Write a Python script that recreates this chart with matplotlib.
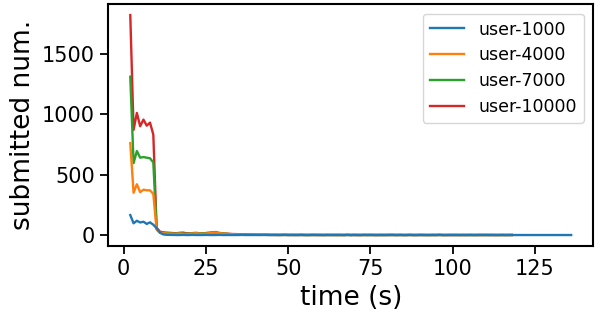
import numpy as np
import matplotlib
matplotlib.use("Agg")
import matplotlib.pyplot as plt

# submitted requests per second, sampled from t = 2 s
t_start = 2

user_1000 = [165, 97, 118, 104, 110, 92, 105, 85, 57, 20, 5, 2,
             1, 1, 0, 0, 1, 0, 0, 1, 0, 0,
             0, 1, 0, 0, 0, 1, 0, 0, 0, 0,
             0, 0, 1, 0, 0, 0, 0, 0, 1, 0,
             0, 0, 0, 0, 0, 1, 0, 0, 0, 0,
             0, 0, 0, 0, 1, 0, 0, 0, 0, 0,
             0, 1, 0, 0, 0, 0, 0, 0, 0, 0,
             1, 0, 0, 0, 0, 0, 0, 0, 1, 0,
             0, 0, 0, 0, 0, 0, 0, 0, 0, 0,
             0, 0, 1, 0, 0, 0, 0, 0, 0, 0,
             0, 0, 0, 0, 0, 1, 0, 0, 0, 0,
             0, 0, 0, 0, 0, 0, 0, 0, 0, 0,
             0, 0, 0, 0, 0, 0, 0, 0, 0, 0,
             0, 0, 0]

user_4000 = [760, 350, 420, 355, 375, 370, 370, 340,
             45, 18, 15, 12, 12, 10, 10, 12, 10, 8,
             10, 12, 14, 12, 10, 12, 15, 18, 20, 15,
             12, 10, 8, 6, 5, 4, 4, 3, 3, 2,
             2, 1, 1, 2, 1, 1, 0, 1, 1, 0,
             1, 0, 1, 1, 0, 0, 1, 0, 0, 1,
             0, 1, 0, 0, 1, 0, 0, 0, 1, 0,
             0, 1, 0, 0, 0, 1, 0, 0, 0, 1,
             0, 0, 1, 0, 0, 0, 0, 1, 0, 0,
             1, 0, 0, 0, 0, 1, 0, 0, 0, 0,
             1, 0, 0, 0, 0, 0, 1, 0, 0, 0,
             0, 1, 0, 0, 0, 0, 0, 1, 0]

user_7000 = [1310, 595, 695, 640, 645, 640, 635, 600,
             50, 22, 18, 15, 14, 12, 12, 14, 12, 10,
             12, 14, 15, 14, 13, 16, 18, 22, 25, 18,
             14, 10, 8, 7, 6, 5, 4, 3, 3, 2,
             2, 2, 1, 2, 1, 1, 1, 0, 1, 1,
             0, 1, 1, 0, 1, 0, 0, 1, 0, 1,
             0, 0, 1, 0, 1, 0, 0, 0, 1, 0,
             1, 0, 0, 1, 0, 0, 1, 0, 0, 0,
             1, 0, 0, 0, 1, 0, 0, 1, 0, 0,
             0, 1, 0, 0, 0, 0, 1, 0, 0, 1,
             0, 0, 0, 1, 0, 0, 0, 0, 1, 0,
             0, 0, 1, 0, 0, 0, 0, 0, 1]

user_10000 = [1820, 870, 1010, 900, 955, 905, 930, 830,
              60, 28, 22, 20, 18, 16, 15, 18, 20, 15,
              14, 16, 18, 15, 14, 16, 18, 20, 18, 15,
              14, 12, 10, 8, 8, 6, 5, 5, 4, 3,
              3, 2, 2, 3, 2, 1, 2, 1, 1, 2,
              1, 1, 0, 1, 2, 1, 0, 1, 1, 0,
              1, 0, 1, 1, 0, 0, 1, 0, 2, 0,
              1, 0, 0, 1, 0, 1, 0, 0, 1, 0,
              0, 2, 0, 0, 1, 0, 0, 1, 0, 0,
              1, 0, 0, 0, 1, 0, 1, 0, 0, 0,
              0, 1, 0, 0, 0, 1, 0, 0, 0, 0,
              1, 0, 0, 0, 0, 1, 0, 0, 0]

series = [("user-1000", user_1000, "#1f77b4"),
          ("user-4000", user_4000, "#ff7f0e"),
          ("user-7000", user_7000, "#2ca02c"),
          ("user-10000", user_10000, "#d62728")]

fig = plt.figure(figsize=(5.98, 3.13), dpi=100)
ax = fig.add_axes([0.181, 0.214, 0.811, 0.773])

# draw the later series first so the small ones stay on top
for name, vals, col in reversed(series):
    t = np.arange(t_start, t_start + len(vals))
    ax.plot(t, vals, color=col, lw=1.7, label=name)

handles, labels = ax.get_legend_handles_labels()
ax.legend(handles[::-1], labels[::-1], loc="upper right", fontsize=12.5,
          handlelength=2.0, borderaxespad=0.55, labelspacing=0.45)

ax.set_xlim(-4.7, 142.7)
ax.set_ylim(-91, 1911)
ax.set_xticks([0, 25, 50, 75, 100, 125])
ax.set_yticks([0, 500, 1000, 1500])
ax.tick_params(labelsize=15, length=5.5, width=1.3, pad=4)
for s in ax.spines.values():
    s.set_linewidth(1.5)

ax.set_xlabel("time (s)", fontsize=19, labelpad=4)
ax.set_ylabel("submitted num.", fontsize=19, labelpad=4)

fig.savefig("out.png", dpi=100)
